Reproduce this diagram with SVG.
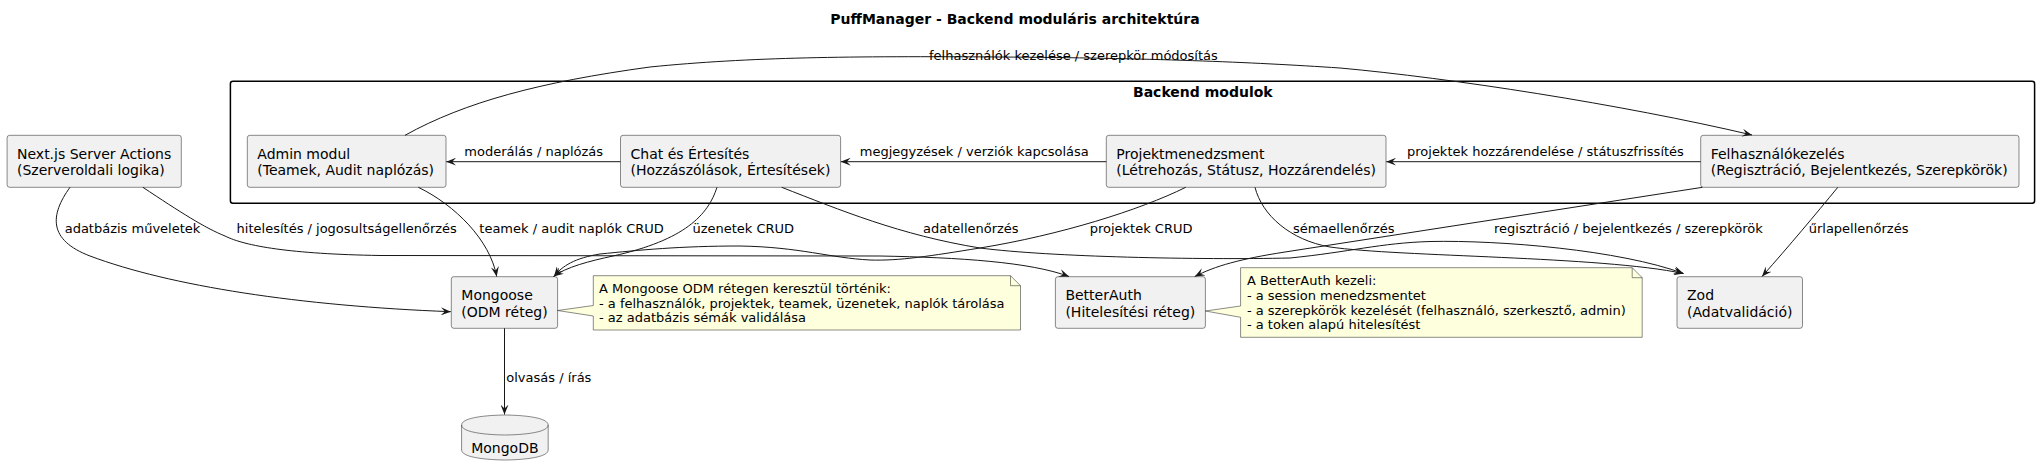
<svg xmlns="http://www.w3.org/2000/svg" width="2041" height="476" viewBox="0 0 2041 476">
<style>
text{font-family:"DejaVu Sans","Liberation Sans",sans-serif;fill:#000}
.t{font-size:14px;font-weight:bold}
.n{font-size:14px}
.l{font-size:13px}
.box{fill:#F1F1F1;stroke:#181818;stroke-width:0.5}
.note{fill:#FEFFDD;stroke:#181818;stroke-width:0.5}
.pkg{fill:none;stroke:#000;stroke-width:1.5}
.e{fill:none;stroke:#181818;stroke-width:1;marker-end:url(#ah)}
</style>
<defs>
<marker id="ah" viewBox="0 0 10 8" refX="10" refY="4" markerWidth="10" markerHeight="8" markerUnits="userSpaceOnUse" orient="auto">
<path d="M0,0 L10,4 L0,8 L4,4 Z" fill="#181818"/>
</marker>
</defs>
<rect width="2041" height="476" fill="#fff"/>
<text class="t" x="1015" y="23.5" text-anchor="middle">PuffManager - Backend moduláris architektúra</text>

<g id="pkg-backend">
<rect class="pkg" x="230.4" y="81.3" width="1804.2" height="122" rx="2.5"/>
<text class="t" x="1133" y="97">Backend modulok</text>
</g>

<g id="nextjs">
<rect class="box" x="7.1" y="135.3" width="174.2" height="52" rx="2.5"/>
<text class="n" x="17" y="158.5">Next.js Server Actions</text>
<text class="n" x="17" y="175">(Szerveroldali logika)</text>
</g>
<g id="admin">
<rect class="box" x="247.3" y="135.3" width="198.7" height="52" rx="2.5"/>
<text class="n" x="257.3" y="158.5">Admin modul</text>
<text class="n" x="257.3" y="175">(Teamek, Audit naplózás)</text>
</g>
<g id="chat">
<rect class="box" x="620.5" y="135.3" width="220.1" height="52" rx="2.5"/>
<text class="n" x="630.5" y="158.5">Chat és Értesítés</text>
<text class="n" x="630.5" y="175">(Hozzászólások, Értesítések)</text>
</g>
<g id="projekt">
<rect class="box" x="1106.3" y="135.3" width="279.7" height="52" rx="2.5"/>
<text class="n" x="1116.3" y="158.5">Projektmenedzsment</text>
<text class="n" x="1116.3" y="175">(Létrehozás, Státusz, Hozzárendelés)</text>
</g>
<g id="felh">
<rect class="box" x="1700.7" y="135.3" width="318.3" height="52" rx="2.5"/>
<text class="n" x="1710.7" y="158.5">Felhasználókezelés</text>
<text class="n" x="1710.7" y="175">(Regisztráció, Bejelentkezés, Szerepkörök)</text>
</g>
<g id="mongoose">
<rect class="box" x="451.3" y="276.7" width="106.3" height="51.6" rx="2.5"/>
<text class="n" x="461.3" y="300">Mongoose</text>
<text class="n" x="461.3" y="316.5">(ODM réteg)</text>
</g>
<g id="betterauth">
<rect class="box" x="1055.4" y="276.7" width="150" height="51.6" rx="2.5"/>
<text class="n" x="1065.4" y="300">BetterAuth</text>
<text class="n" x="1065.4" y="316.5">(Hitelesítési réteg)</text>
</g>
<g id="zod">
<rect class="box" x="1677" y="276.7" width="125.5" height="51.6" rx="2.5"/>
<text class="n" x="1687" y="300">Zod</text>
<text class="n" x="1687" y="316.5">(Adatvalidáció)</text>
</g>
<g id="mongodb">
<path class="box" d="M461.6,425 C461.6,415 505,415 505,415 C505,415 548.2,415 548.2,425 L548.2,450 C548.2,460 505,460 505,460 C505,460 461.6,460 461.6,450 Z"/>
<path d="M461.6,425 C461.6,435 505,435 505,435 C505,435 548.2,435 548.2,425" fill="none" stroke="#181818" stroke-width="0.5"/>
<text class="n" x="504.9" y="452.5" text-anchor="middle">MongoDB</text>
</g>

<g id="note-mongoose">
<path class="note" d="M593.3,275.7 L1010.5,275.7 L1020.5,285.7 L1020.5,330 L593.3,330 L593.3,316 L557.6,310.5 L593.3,305.5 Z"/>
<path d="M1010.5,275.7 L1010.5,285.7 L1020.5,285.7" fill="none" stroke="#181818" stroke-width="0.5"/>
<text class="l" x="599" y="292.5">A Mongoose ODM rétegen keresztül történik:</text>
<text class="l" x="599" y="307.5">- a felhasználók, projektek, teamek, üzenetek, naplók tárolása</text>
<text class="l" x="599" y="322.3">- az adatbázis sémák validálása</text>
</g>
<g id="note-betterauth">
<path class="note" d="M1240.6,267.7 L1632.2,267.7 L1642.2,277.7 L1642.2,337.3 L1240.6,337.3 L1240.6,317.3 L1205.4,311 L1240.6,306 Z"/>
<path d="M1632.2,267.7 L1632.2,277.7 L1642.2,277.7" fill="none" stroke="#181818" stroke-width="0.5"/>
<text class="l" x="1246.9" y="285">A BetterAuth kezeli:</text>
<text class="l" x="1246.9" y="299.8">- a session menedzsmentet</text>
<text class="l" x="1246.9" y="314.6">- a szerepkörök kezelését (felhasználó, szerkesztő, admin)</text>
<text class="l" x="1246.9" y="329.4">- a token alapú hitelesítést</text>
</g>

<g id="connectors">
<path class="e" d="M405,135.3 C465,102 540,82 650,67 C750,57 850,56 1000,57 C1150,58 1250,62 1340,68 C1450,78 1620,104 1752,135"/>
<path class="e" d="M620.5,161.7 L446.2,161.7"/>
<path class="e" d="M1106.3,161.7 L840.8,161.7"/>
<path class="e" d="M1700.7,161.7 L1386.2,161.7"/>
<path class="e" d="M70,187.3 C50,215 48,240 90,256 C170,286 300,306 450.8,311.7"/>
<path class="e" d="M142.9,187.3 C180,212 205,228 225,236 C245,246 290,254 380,255.5 L880,256 C960,257.5 1030,262 1069,276.5"/>
<path class="e" d="M418.3,187.3 C455,205 490,240 496.7,276.5"/>
<path class="e" d="M717,187.3 C708,215 685,240 613,256 C590,261 566,267 553.5,276.5"/>
<path class="e" d="M1185.7,187.3 C1140,210 1060,235 980,248 C930,256 900,261 870,260 C830,258 800,247 740,246 C680,246 640,250 600,254 C575,258 562,266 554,276.5"/>
<path class="e" d="M781.7,187.3 C840,210 900,235 980,248 C1050,257 1200,260 1290,258 C1350,252 1380,243 1430,241.5 C1500,240 1620,250 1683.5,273.5"/>
<path class="e" d="M1255,187.3 C1262,215 1290,240 1330,247 C1400,257 1600,256 1683.5,273.5"/>
<path class="e" d="M1702.5,187.3 L1285,252 C1240,259 1215,266 1194.8,276.5"/>
<path class="e" d="M1837.8,187.3 C1815,215 1790,245 1762,276.5"/>
<path class="e" d="M504.5,328.3 L504.5,414.5"/>
</g>

<g id="edge-labels">
<text class="l" x="929" y="60">felhasználók kezelése / szerepkör módosítás</text>
<text class="l" x="464.3" y="155.5">moderálás / naplózás</text>
<text class="l" x="859.8" y="155.5">megjegyzések / verziók kapcsolása</text>
<text class="l" x="1407" y="155.5">projektek hozzárendelése / státuszfrissítés</text>
<text class="l" x="64.7" y="233">adatbázis műveletek</text>
<text class="l" x="236.6" y="233">hitelesítés / jogosultságellenőrzés</text>
<text class="l" x="479.3" y="233">teamek / audit naplók CRUD</text>
<text class="l" x="692.4" y="233">üzenetek CRUD</text>
<text class="l" x="923" y="233">adatellenőrzés</text>
<text class="l" x="1089.7" y="233">projektek CRUD</text>
<text class="l" x="1292.9" y="233">sémaellenőrzés</text>
<text class="l" x="1494" y="233">regisztráció / bejelentkezés / szerepkörök</text>
<text class="l" x="1808.7" y="233">űrlapellenőrzés</text>
<text class="l" x="506.3" y="382">olvasás / írás</text>
</g>
</svg>
